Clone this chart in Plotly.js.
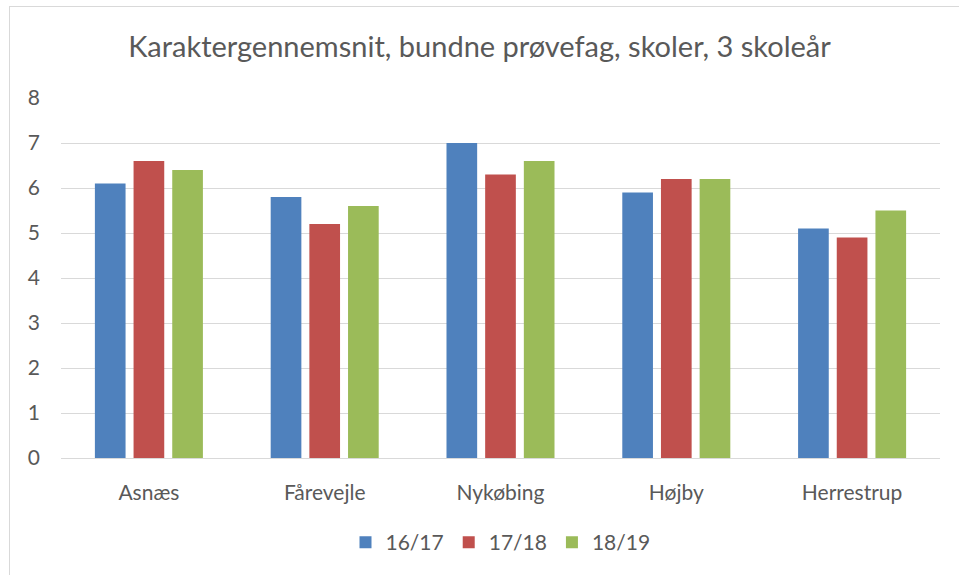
<!DOCTYPE html>
<html><head><meta charset="utf-8">
<script src="https://cdn.plot.ly/plotly-3.0.1.min.js"></script>
<style>
html,body{margin:0;padding:0;background:#fff;overflow:hidden}
#frame{position:absolute;left:9px;top:6px;width:1000px;height:700px;border:1px solid #d9d9d9;box-sizing:border-box}
#chart{position:absolute;left:0;top:0;width:959px;height:575px}
</style></head>
<body>
<div id="frame"></div>
<div id="chart"></div>
<script>
const categories = ["Asnæs", "Fårevejle", "Nykøbing", "Højby", "Herrestrup"];
const seriesNames = ["16/17", "17/18", "18/19"];
const v1617 = [6.1, 5.8, 7.0, 5.9, 5.1];
const v1718 = [6.6, 5.2, 6.3, 6.2, 4.9];
const v1819 = [6.4, 5.6, 6.6, 6.2, 5.5];
const yTicks = [0, 1, 2, 3, 4, 5, 6, 7, 8];

const colors = ["#4F81BD", "#C0504D", "#9BBB59"];
const font = "Lato, 'Open Sans', sans-serif";
const data = [v1617, v1718, v1819].map((v, i) => ({
  type: "bar", x: categories, y: v, name: seriesNames[i],
  marker: {color: colors[i]}, hoverinfo: "none"
}));
const layout = {
  width: 959, height: 575,
  paper_bgcolor: "rgba(0,0,0,0)", plot_bgcolor: "rgba(0,0,0,0)",
  margin: {l: 61, r: 19, t: 98, b: 115},
  title: {text: "Karaktergennemsnit, bundne prøvefag, skoler, 3 skoleår",
    font: {family: font, size: 29, color: "#595959"}, x: 0.5, xanchor: "center", y: 0.918, yanchor: "middle"},
  barmode: "group", bargap: 0.34, bargroupgap: 0.207,
  xaxis: {showgrid: false, showline: true, linecolor: "#d9d9d9", linewidth: 1,
    tickfont: {family: font, size: 21, color: "#595959"}, ticks: "", ticklabelstandoff: 16, fixedrange: true},
  yaxis: {range: [0, 8], tickvals: yTicks, showgrid: true, gridcolor: "#d9d9d9", gridwidth: 1,
    zeroline: false, showline: false, ticks: "", ticklabelstandoff: 20,
    tickfont: {family: font, size: 21, color: "#595959"}, fixedrange: true},
  legend: {orientation: "h", x: 0.5, xanchor: "center", y: -0.235, yanchor: "middle",
    font: {family: font, size: 21, color: "#595959"}, itemwidth: 30, traceorder: "normal"},
  showlegend: true
};
Plotly.newPlot("chart", data, layout, {displayModeBar: false, staticPlot: true});
</script>
</body></html>
